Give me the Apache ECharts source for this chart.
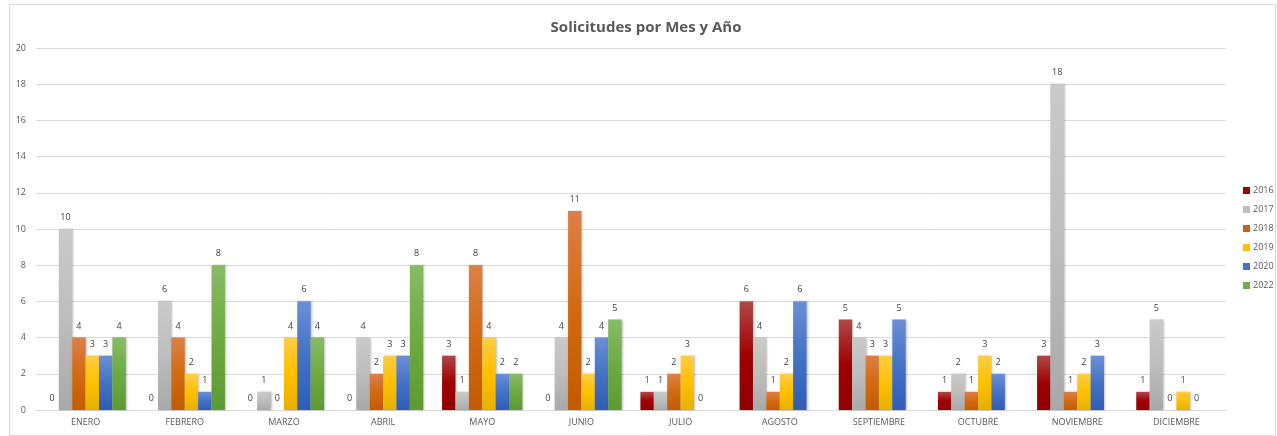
<!DOCTYPE html>
<html>
<head>
<meta charset="utf-8">
<script src="https://cdn.jsdelivr.net/npm/echarts@6/dist/echarts.min.js"></script>
<style>html,body{margin:0;padding:0;background:#fff;}#c{width:1277px;height:436px;}</style>
</head>
<body>
<div id="c"></div>
<script>
const months = ['ENERO','FEBRERO','MARZO','ABRIL','MAYO','JUNIO','JULIO','AGOSTO','SEPTIEMBRE','OCTUBRE','NOVIEMBRE','DICIEMBRE'];
const years = ['2016','2017','2018','2019','2020','2022'];
const y2016 = [0, 0, 0, 0, 3, 0, 1, 6, 5, 1, 3, 1];
const y2017 = [10, 6, 1, 4, 1, 4, 1, 4, 4, 2, 18, 5];
const y2018 = [4, 4, 0, 2, 8, 11, 2, 1, 3, 1, 1, 0];
const y2019 = [3, 2, 4, 3, 4, 2, 3, 2, 3, 3, 2, 1];
const y2020 = [3, 1, 6, 3, 2, 4, 0, 6, 5, 2, 3, 0];
const y2022 = [4, 8, 4, 8, 2, 5, null, null, null, null, null, null];
const yTicks = [0, 20, 2];

const seriesData = [y2016, y2017, y2018, y2019, y2020, y2022];
const baseColors = ['#a00000', '#bfbfbf', '#d06010', '#ffc000', '#4472c4', '#70ad47'];
const grads = [
  ['#b04848', '#a00000', '#900000'],
  ['#cacaca', '#bdbdbd', '#a9a9a9'],
  ['#dd8048', '#d26a12', '#c25a00'],
  ['#ffcd45', '#ffc000', '#e6b000'],
  ['#6b8fd6', '#4472c4', '#2f5db5'],
  ['#88bb66', '#6dab42', '#5c9a32']
];

const chart = echarts.init(document.getElementById('c'), null, {renderer: 'canvas'});
const txt = '#595959';
chart.setOption({
  backgroundColor: '#fff',
  animation: false,
  title: {
    text: 'Solicitudes por Mes y Año',
    left: 641, top: 15, textAlign: 'center',
    textStyle: {fontFamily: 'Open Sans', fontSize: 15, fontWeight: 'bold', color: txt}
  },
  graphic: [{
    type: 'rect', shape: {x: 9.5, y: 4.5, width: 1266, height: 431},
    style: {fill: 'none', stroke: '#d9d9d9', lineWidth: 1}, silent: true, z: -1
  }],
  legend: {
    orient: 'vertical', left: 1238, top: 181,
    itemWidth: 7, itemHeight: 7, itemGap: 10,
    icon: 'rect',
    textStyle: {fontFamily: 'Open Sans', fontSize: 9, color: txt, padding: [0, 0, 0, -2]},
    data: years.map((y, i) => ({name: y, itemStyle: {color: baseColors[i]}}))
  },
  grid: {left: 36, right: 51, top: 48, bottom: 26, containLabel: false},
  xAxis: {
    type: 'category', data: months,
    axisLine: {lineStyle: {color: '#d9d9d9'}},
    axisTick: {show: false},
    axisLabel: {fontFamily: 'Open Sans', fontSize: 9, color: txt, margin: 8}
  },
  yAxis: {
    type: 'value', min: yTicks[0], max: yTicks[1], interval: yTicks[2],
    axisLine: {show: false}, axisTick: {show: false},
    splitLine: {lineStyle: {color: '#d9d9d9', width: 1}},
    axisLabel: {fontFamily: 'Open Sans', fontSize: 9, color: txt, margin: 10}
  },
  series: seriesData.map((d, i) => ({
    name: years[i], type: 'bar', data: d,
    barGap: '0%', barCategoryGap: '19%',
    itemStyle: {
      color: new echarts.graphic.LinearGradient(0, 0, 0, 1, [
        {offset: 0, color: grads[i][0]},
        {offset: 0.5, color: grads[i][1]},
        {offset: 1, color: grads[i][2]}
      ]),
      shadowColor: 'rgba(0,0,0,0.25)', shadowBlur: 2, shadowOffsetX: 1
    },
    label: {
      show: true, position: 'top', distance: 7,
      fontFamily: 'Open Sans', fontSize: 9, color: '#404040',
      formatter: p => (p.value === null || p.value === undefined) ? '' : p.value
    }
  }))
});
</script>
</body>
</html>
